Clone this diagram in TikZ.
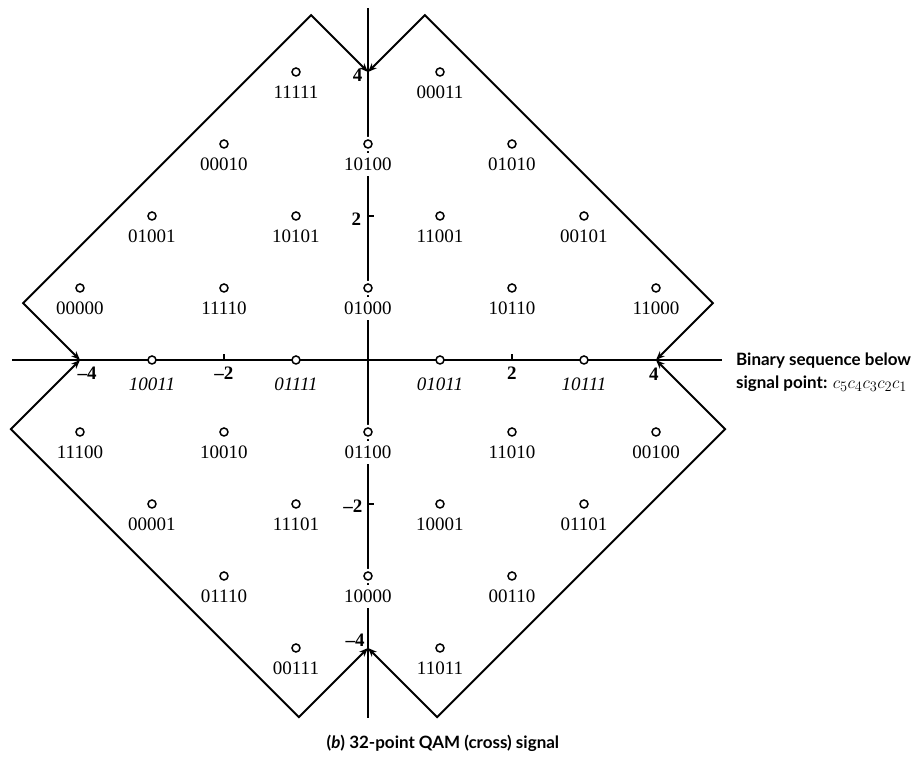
\documentclass[tikz,border=0pt]{standalone}
\usepackage{fontspec}
\setmainfont{Liberation Serif}
\newfontfamily\capfont{Lato}
\usetikzlibrary{arrows.meta,positioning}

\begin{document}
\begin{tikzpicture}[
		x=72pt, y=72pt,
		p/.style	= {circle, draw, fill=white, line width=1.5pt, inner sep=0pt, minimum size=8pt, preaction={draw=white, line width=6pt}},
		pa/.style	= {circle, draw, fill=white, line width=1.5pt, inner sep=0pt, minimum size=8pt},
		t/.style	= {anchor=north, fill=white, inner xsep=1pt, inner ysep=5pt, yshift=-9pt, font=\fontsize{19}{19}\selectfont},
		ti/.style	= {t, yshift=-4pt, font=\fontsize{19}{19}\selectfont\itshape},
		k/.style	= {inner sep=1pt, font=\fontsize{19}{19}\selectfont\bfseries},
		ct/.style	= {inner sep=0pt, font=\capfont\fontsize{17}{17}\selectfont\bfseries},
		r/.style	= {{Stealth[length=9pt,width=7pt]}-{Stealth[length=9pt,width=7pt]}, line width=1.8pt, line join=miter},
		l/.style	= {line width=1.9pt},
		]
		
		\useasboundingbox (-5.1111,-5.5694) rectangle (7.7222,5.0);
		
		% === === Axes === ===
		\coordinate	(yt)	at	(0, 4.89);
		\coordinate	(yb)	at	(0, -4.97);
		\coordinate	(xl)	at	(-4.94, 0);
		\coordinate	(xr)	at	(4.92, 0);
		\draw[l]	(yb)	--	(yt);
		\draw[l]	(xl)	--	(xr);
		\draw[l]	(-2, 0)	--	(-2, 0.09);
		\draw[l]	(2, 0)	--	(2, 0.09);
		\draw[l]	(0, 2)	--	(0.09, 2);
		\draw[l]	(0, -2)	--	(0.09, -2);
		
		\node[k, anchor=north]		(hm4)	at	(-3.90, -0.08)	{--4};
		\node[k, anchor=north]		(hm2)	at	(-2, -0.08)		{--2};
		\node[k, anchor=north]		(hp2)	at	(2, -0.08)		{2};
		\node[k, anchor=north]		(hp4)	at	(3.97, -0.10)	{4};
		\node[k, anchor=east]		(vp4)	at	(-0.06, 3.96)	{4};
		\node[k, anchor=east]		(vp2)	at	(-0.08, 1.95)	{2};
		\node[k, anchor=east]		(vm2)	at	(-0.06, -2.03)	{--2};
		\node[k, anchor=south east]	(vm4)	at	(-0.03, -4.0)	{--4};
		
		% === === Cross outline === ===
		\coordinate	(nt)	at	(0, 4);
		\coordinate	(nl)	at	(-4, 0);
		\coordinate	(nr)	at	(4, 0);
		\coordinate	(nb)	at	(0, -4);
		\coordinate	(ul1)	at	(-0.79, 4.79);
		\coordinate	(ul2)	at	(-4.79, 0.79);
		\coordinate	(ur1)	at	(0.79, 4.79);
		\coordinate	(ur2)	at	(4.79, 0.79);
		\coordinate	(ll1)	at	(-4.96, -0.96);
		\coordinate	(ll2)	at	(-0.96, -4.96);
		\coordinate	(lr1)	at	(4.96, -0.96);
		\coordinate	(lr2)	at	(0.96, -4.96);
		
		\draw[r]	(nl)	--	(ul2)	--	(ul1)	--	(nt);
		\draw[r]	(nt)	--	(ur1)	--	(ur2)	--	(nr);
		\draw[r]	(nr)	--	(lr1)	--	(lr2)	--	(nb);
		\draw[r]	(nb)	--	(ll2)	--	(ll1)	--	(nl);
		
		% === === Signal points === ===
		\node[p]	(s11111)	at	(-1, 4)		{};
		\node[p]	(s00011)	at	(1, 4)		{};
		
		\node[p]	(s00010)	at	(-2, 3)		{};
		\node[p]	(s10100)	at	(0, 3)		{};
		\node[p]	(s01010)	at	(2, 3)		{};
		
		\node[p]	(s01001)	at	(-3, 2)		{};
		\node[p]	(s10101)	at	(-1, 2)		{};
		\node[p]	(s11001)	at	(1, 2)		{};
		\node[p]	(s00101)	at	(3, 2)		{};
		
		\node[p]	(s00000)	at	(-4, 1)		{};
		\node[p]	(s11110)	at	(-2, 1)		{};
		\node[p]	(s01000)	at	(0, 1)		{};
		\node[p]	(s10110)	at	(2, 1)		{};
		\node[p]	(s11000)	at	(4, 1)		{};
		
		\node[pa]	(s10011)	at	(-3, 0)		{};
		\node[pa]	(s01111)	at	(-1, 0)		{};
		\node[pa]	(s01011)	at	(1, 0)		{};
		\node[pa]	(s10111)	at	(3, 0)		{};
		
		\node[p]	(s11100)	at	(-4, -1)	{};
		\node[p]	(s10010)	at	(-2, -1)	{};
		\node[p]	(s01100)	at	(0, -1)		{};
		\node[p]	(s11010)	at	(2, -1)		{};
		\node[p]	(s00100)	at	(4, -1)		{};
		
		\node[p]	(s00001)	at	(-3, -2)	{};
		\node[p]	(s11101)	at	(-1, -2)	{};
		\node[p]	(s10001)	at	(1, -2)		{};
		\node[p]	(s01101)	at	(3, -2)		{};
		
		\node[p]	(s01110)	at	(-2, -3)	{};
		\node[p]	(s10000)	at	(0, -3)		{};
		\node[p]	(s00110)	at	(2, -3)		{};
		
		\node[p]	(s00111)	at	(-1, -4)	{};
		\node[p]	(s11011)	at	(1, -4)		{};
		
		% === === Binary labels === ===
		\node[t]	(b11111)	at	(s11111)	{11111};
		\node[t]	(b00011)	at	(s00011)	{00011};
		\node[t]	(b00010)	at	(s00010)	{00010};
		\node[t]	(b10100)	at	(s10100)	{10100};
		\node[t]	(b01010)	at	(s01010)	{01010};
		\node[t]	(b01001)	at	(s01001)	{01001};
		\node[t]	(b10101)	at	(s10101)	{10101};
		\node[t]	(b11001)	at	(s11001)	{11001};
		\node[t]	(b00101)	at	(s00101)	{00101};
		\node[t]	(b00000)	at	(s00000)	{00000};
		\node[t]	(b11110)	at	(s11110)	{11110};
		\node[t]	(b01000)	at	(s01000)	{01000};
		\node[t]	(b10110)	at	(s10110)	{10110};
		\node[t]	(b11000)	at	(s11000)	{11000};
		\node[ti]	(b10011)	at	(s10011)	{10011};
		\node[ti]	(b01111)	at	(s01111)	{01111};
		\node[ti]	(b01011)	at	(s01011)	{01011};
		\node[ti]	(b10111)	at	(s10111)	{10111};
		\node[t]	(b11100)	at	(s11100)	{11100};
		\node[t]	(b10010)	at	(s10010)	{10010};
		\node[t]	(b01100)	at	(s01100)	{01100};
		\node[t]	(b11010)	at	(s11010)	{11010};
		\node[t]	(b00100)	at	(s00100)	{00100};
		\node[t]	(b00001)	at	(s00001)	{00001};
		\node[t]	(b11101)	at	(s11101)	{11101};
		\node[t]	(b10001)	at	(s10001)	{10001};
		\node[t]	(b01101)	at	(s01101)	{01101};
		\node[t]	(b01110)	at	(s01110)	{01110};
		\node[t]	(b10000)	at	(s10000)	{10000};
		\node[t]	(b00110)	at	(s00110)	{00110};
		\node[t]	(b00111)	at	(s00111)	{00111};
		\node[t]	(b11011)	at	(s11011)	{11011};
		
		% === === Texts === ===
		\node[ct, anchor=base west]	(key1)	at	(5.11, -0.083)	{Binary sequence below};
		\node[ct, anchor=base west]	(key2)	at	(5.11, -0.39)	{signal point: \mdseries\fontsize{19}{19}\selectfont$c_5c_4c_3c_2c_1$};
		\node[ct, anchor=base]		(cap)	at	(1.04, -5.40)	{(\textit{b}) 32-point QAM (cross) signal};
		
	\end{tikzpicture}
\end{document}
